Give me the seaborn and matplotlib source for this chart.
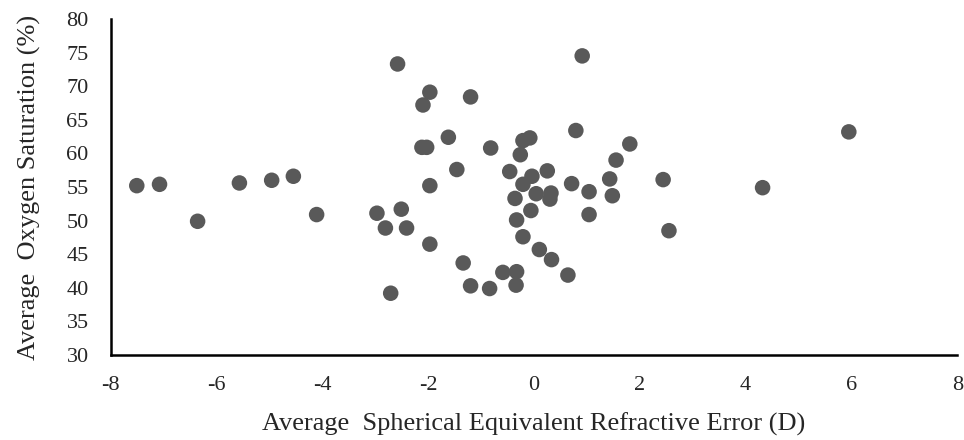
import numpy as np
import seaborn as sns
import pandas as pd
import matplotlib.pyplot as plt

# Average spherical equivalent refractive error (D) and oxygen saturation (%)
refractive_error = [
    -7.51, -7.08, -6.36, -5.57, -4.96, -4.55, -4.11, -2.97, -2.51, -2.81,
    -2.41, -2.71, -2.58, -1.97, -2.10, -1.20, -1.62, -2.12, -2.03, -0.82,
    -1.46, -1.97, -1.97, -1.34, -1.20, -0.84, -0.59, -0.33, -0.34, 0.91,
    0.79, 1.81, -0.08, -0.21, -0.26, -0.46, 0.25, -0.04, -0.21, 1.55,
    1.43, 1.48, 0.71, 1.04, 1.04, 2.44, 2.55, -0.36, 0.04, 0.32,
    0.30, -0.06, -0.33, -0.21, 0.10, 0.33, 0.64, 4.32, 5.95,
]
oxygen_saturation = [
    55.2, 55.4, 49.9, 55.6, 56.0, 56.6, 50.9, 51.1, 51.7, 48.9,
    48.9, 39.2, 73.3, 69.1, 67.2, 68.4, 62.4, 60.9, 60.9, 60.8,
    57.6, 55.2, 46.5, 43.7, 40.3, 39.9, 42.3, 42.4, 40.4, 74.5,
    63.4, 61.4, 62.3, 61.9, 59.8, 57.3, 57.4, 56.6, 55.4, 59.0,
    56.2, 53.7, 55.5, 54.3, 50.9, 56.1, 48.5, 53.3, 54.0, 54.1,
    53.2, 51.5, 50.1, 47.6, 45.7, 44.2, 41.9, 54.9, 63.2,
]

df = pd.DataFrame({"error": refractive_error, "sat": oxygen_saturation})

sns.set_style("white")
plt.rcParams["font.family"] = ["Liberation Serif", "DejaVu Serif"]
plt.rcParams["axes.unicode_minus"] = False

fig = plt.figure(figsize=(9.64, 4.40), dpi=100)
ax = fig.add_axes([0.115, 0.193, 0.878, 0.764])

sns.scatterplot(data=df, x="error", y="sat", ax=ax, s=125,
                color="#595959", edgecolor="none", linewidth=0)

ax.set_xlim(-8, 8)
ax.set_ylim(30, 80)
ax.set_xticks(np.arange(-8, 9, 2))
ax.set_yticks(np.arange(30, 81, 5))
ax.tick_params(length=0, labelsize=16)
ax.tick_params(axis="x", pad=15)
ax.tick_params(axis="y", pad=16)

for side in ["top", "right"]:
    ax.spines[side].set_visible(False)
for side in ["left", "bottom"]:
    ax.spines[side].set_color("black")
    ax.spines[side].set_linewidth(1.8)

ax.set_xlabel("Average  Spherical Equivalent Refractive Error (D)", fontsize=19, labelpad=13)
ax.set_ylabel("Average  Oxygen Saturation (%)", fontsize=19, labelpad=18)

fig.savefig("out.png", dpi=100)
